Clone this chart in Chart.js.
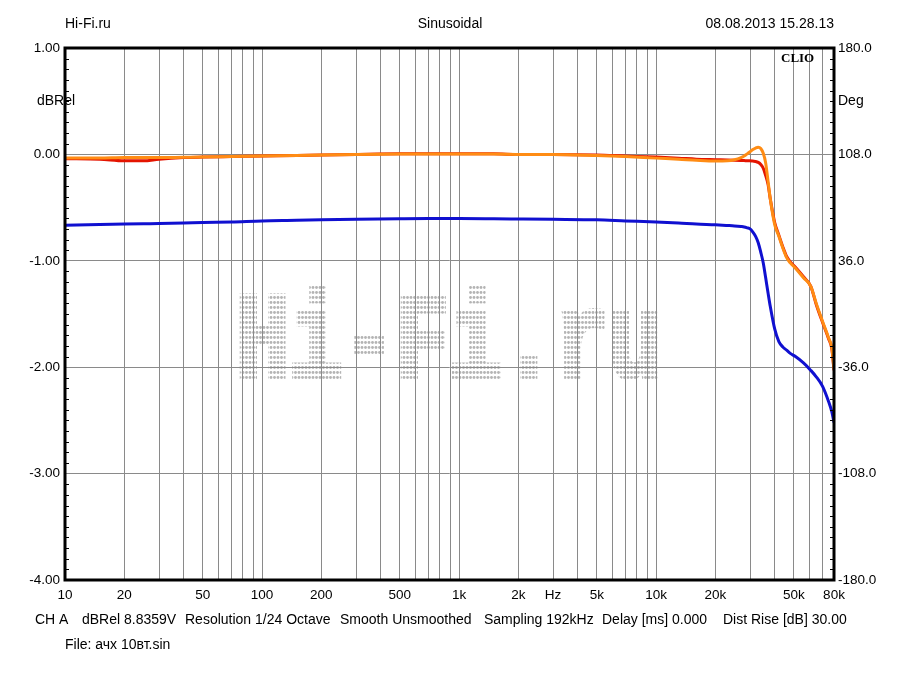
<!DOCTYPE html>
<html>
<head>
<meta charset="utf-8">
<script src="https://cdn.jsdelivr.net/npm/chart.js@4.4.1/dist/chart.umd.min.js"></script>
<style>
  html, body { margin: 0; padding: 0; background: #fff; }
  #wrap { width: 900px; height: 675px; }
</style>
</head>
<body>
<div id="wrap"><canvas id="chart"></canvas></div>
<script>
// frequency points (Hz)
const freqs = [10, 15, 20, 25, 30, 40, 50, 70, 100, 150, 200, 300, 500, 700, 1000, 1500, 2000, 3000, 5000, 7000,
  10000, 13000, 16000, 20000, 23000, 25000, 27000, 28000, 29000, 30000, 31000, 32000, 33000, 34000, 35000, 36000,
  37000, 38000, 40000, 42000, 44000, 46000, 48000, 51000, 56000, 61000, 65000, 70000, 75000, 78000, 80000];

// dBRel values
const orangeVals = [-0.035, -0.035, -0.03, -0.03, -0.03, -0.027, -0.025, -0.02, -0.015, -0.01, -0.005, 0, 0.003, 0.003, 0.003, 0.003, 0, 0, -0.01, -0.02,
  -0.035, -0.045, -0.055, -0.062, -0.06, -0.05, -0.03, -0.015, 0.005, 0.025, 0.045, 0.06, 0.068, 0.055, 0.01, -0.08,
  -0.25, -0.42, -0.66, -0.77, -0.88, -0.97, -1.02, -1.07, -1.16, -1.24, -1.40, -1.57, -1.72, -1.82, -2.02];
const redVals = [-0.04, -0.045, -0.06, -0.06, -0.045, -0.03, -0.025, -0.02, -0.015, -0.01, -0.005, 0, 0.005, 0.005, 0.005, 0.005, 0, 0, -0.005, -0.015,
  -0.025, -0.035, -0.045, -0.05, -0.053, -0.055, -0.057, -0.058, -0.06, -0.06, -0.063, -0.066, -0.075, -0.095, -0.13, -0.2,
  -0.28, -0.42, -0.64, -0.76, -0.87, -0.96, -1.01, -1.06, -1.15, -1.24, -1.41, -1.58, -1.73, -1.83, -2.03];
const blueVals = [-0.665, -0.66, -0.655, -0.652, -0.65, -0.645, -0.64, -0.635, -0.625, -0.62, -0.615, -0.61, -0.605, -0.603, -0.603, -0.605, -0.607, -0.61, -0.615, -0.625,
  -0.635, -0.645, -0.655, -0.662, -0.668, -0.672, -0.678, -0.682, -0.69, -0.70, -0.73, -0.77, -0.83, -0.92, -1.02, -1.16,
  -1.30, -1.43, -1.64, -1.76, -1.81, -1.84, -1.87, -1.90, -1.96, -2.03, -2.09, -2.18, -2.32, -2.42, -2.52];

// axis ticks
const xGrid = [10, 20, 30, 40, 50, 60, 70, 80, 90, 100, 200, 300, 400, 500, 600, 700, 800, 900,
  1000, 2000, 3000, 4000, 5000, 6000, 7000, 8000, 9000, 10000, 20000, 30000, 40000, 50000, 60000, 70000, 80000];
const xLabels = {10: '10', 20: '20', 50: '50', 100: '100', 200: '200', 500: '500', 1000: '1k', 2000: '2k',
  3000: 'Hz', 5000: '5k', 10000: '10k', 20000: '20k', 50000: '50k', 80000: '80k'};
const dbTicks = [1, 0, -1, -2, -3, -4];
const degTicks = [180, 108, 36, -36, -108, -180];

const FONT = '"Liberation Sans", Arial, sans-serif';
Chart.defaults.font.family = FONT;
Chart.defaults.font.size = 13.5;
Chart.defaults.color = '#000';

const pts = vals => freqs.map((f, i) => ({x: f, y: vals[i]}));

const decor = {
  id: 'decor',
  beforeDraw(chart) {
    const {ctx} = chart;
    // dotted watermark
    const off = document.createElement('canvas');
    off.width = 900; off.height = 675;
    const o = off.getContext('2d');
    o.font = 'bold 100px "Liberation Mono", monospace';
    const w = o.measureText('Hi-Fi.ru').width;
    const capH = o.measureText('H').actualBoundingBoxAscent;
    o.save();
    o.translate(236, 377);
    o.scale(426 / w, 82 / capH);
    o.fillStyle = '#000';
    o.strokeStyle = '#000';
    o.lineWidth = 5;
    o.lineJoin = 'miter';
    o.fillText('Hi-Fi.ru', 0, 0);
    o.strokeText('Hi-Fi.ru', 0, 0);
    o.restore();
    const pc = document.createElement('canvas');
    pc.width = 7; pc.height = 5;
    const p = pc.getContext('2d');
    p.fillStyle = '#b4b4b4';
    p.beginPath(); p.arc(1.5, 2.5, 1.4, 0, Math.PI * 2); p.fill();
    p.beginPath(); p.arc(5, 2.5, 1.4, 0, Math.PI * 2); p.fill();
    o.globalCompositeOperation = 'source-in';
    o.fillStyle = o.createPattern(pc, 'repeat');
    o.fillRect(0, 0, 900, 675);
    ctx.drawImage(off, 0, 0);
  },
  afterDraw(chart) {
    const {ctx, chartArea: a, scales} = chart;
    ctx.save();
    // minor ticks
    ctx.strokeStyle = '#000';
    ctx.lineWidth = 1;
    for (let i = -40; i <= 10; i++) {
      if (i % 10 === 0) continue;
      const y = Math.round(scales.y.getPixelForValue(i / 10)) + 0.5;
      ctx.beginPath();
      ctx.moveTo(a.left, y); ctx.lineTo(a.left + 4, y);
      ctx.moveTo(a.right - 4, y); ctx.lineTo(a.right, y);
      ctx.stroke();
    }
    // frame
    ctx.lineWidth = 3;
    ctx.strokeRect(a.left, a.top, a.right - a.left, a.bottom - a.top);
    ctx.fillStyle = '#000';
    ctx.font = '14px ' + FONT;
    ctx.textBaseline = 'middle';
    ctx.textAlign = 'left';
    ctx.fillText('Hi-Fi.ru', 65, 24);
    ctx.textAlign = 'center';
    ctx.fillText('Sinusoidal', 450, 24);
    ctx.textAlign = 'right';
    ctx.fillText('08.08.2013 15.28.13', 834, 24);
    ctx.textAlign = 'left';
    const yMid = scales.y.getPixelForValue(0.5);
    ctx.fillText('dBRel', 37, yMid);
    ctx.fillText('Deg', 838, yMid);
    // footer
    const foot = [['CH A', 35], ['dBRel 8.8359V', 82], ['Resolution 1/24 Octave', 185], ['Smooth Unsmoothed', 340],
      ['Sampling 192kHz', 484], ['Delay [ms] 0.000', 602], ['Dist Rise [dB] 30.00', 723]];
    foot.forEach(([t, x]) => ctx.fillText(t, x, 620));
    ctx.fillText('File: ачх 10вт.sin', 65, 645);
    // CLIO mark
    ctx.font = 'bold 13px "Liberation Serif", serif';
    ctx.fillText('CLIO', 781, 59);
    ctx.restore();
  }
};

new Chart(document.getElementById('chart'), {
  type: 'line',
  plugins: [decor],
  data: {
    datasets: [
      {data: pts(orangeVals), borderColor: 'rgb(255,140,20)', borderWidth: 3, pointRadius: 0, cubicInterpolationMode: 'monotone'},
      {data: pts(redVals), borderColor: 'rgb(228,20,0)', borderWidth: 3, pointRadius: 0, cubicInterpolationMode: 'monotone'},
      {data: pts(blueVals), borderColor: 'rgb(16,16,208)', borderWidth: 3, pointRadius: 0, cubicInterpolationMode: 'monotone'}
    ]
  },
  options: {
    responsive: true,
    maintainAspectRatio: false,
    animation: false,
    layout: {padding: {top: 48, left: 0, right: 0, bottom: 0}},
    plugins: {legend: {display: false}, tooltip: {enabled: false}},
    scales: {
      x: {
        type: 'logarithmic', min: 10, max: 80000,
        afterBuildTicks: s => { s.ticks = xGrid.map(v => ({value: v})); },
        afterFit: s => { s.height = 95; },
        grid: {color: '#8a8a8a', lineWidth: 1, drawTicks: false},
        border: {display: false},
        ticks: {autoSkip: false, maxRotation: 0, padding: 7, callback: v => xLabels[v] || ''}
      },
      y: {
        position: 'left', min: -4, max: 1,
        afterBuildTicks: s => { s.ticks = dbTicks.map(v => ({value: v})); },
        afterFit: s => { s.width = 65; },
        grid: {color: '#8a8a8a', lineWidth: 1, drawTicks: false},
        border: {display: false},
        ticks: {padding: 5, callback: v => v.toFixed(2)}
      },
      y2: {
        position: 'right', min: -180, max: 180,
        afterBuildTicks: s => { s.ticks = degTicks.map(v => ({value: v})); },
        afterFit: s => { s.width = 66; },
        grid: {display: false, drawTicks: false},
        border: {display: false},
        ticks: {padding: 4, callback: v => v.toFixed(1)}
      }
    }
  }
});
</script>
</body>
</html>
